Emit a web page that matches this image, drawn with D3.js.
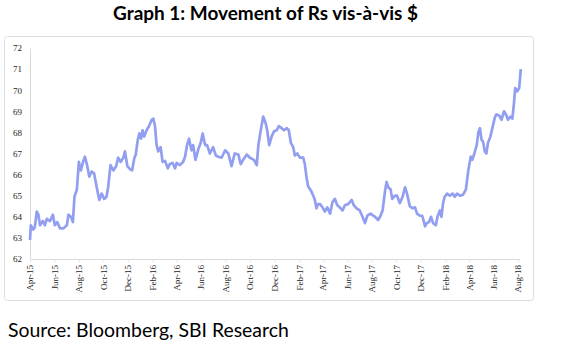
<!DOCTYPE html>
<html><head><meta charset="utf-8">
<script src="https://cdn.jsdelivr.net/npm/d3@7"></script>
<style>body{margin:0;background:#fff}svg{display:block}</style>
</head><body>
<svg id="c" width="571" height="359"></svg>
<script>
const dates = ["2015-04-01","2015-04-03","2015-04-09","2015-04-13","2015-04-18","2015-04-22","2015-04-26","2015-05-03","2015-05-08","2015-05-13","2015-05-21","2015-05-28","2015-06-02","2015-06-08","2015-06-15","2015-06-23","2015-07-02","2015-07-06","2015-07-12","2015-07-17","2015-07-21","2015-07-27","2015-08-01","2015-08-06","2015-08-12","2015-08-16","2015-08-22","2015-08-27","2015-09-02","2015-09-08","2015-09-14","2015-09-21","2015-09-27","2015-10-03","2015-10-09","2015-10-13","2015-10-19","2015-10-26","2015-11-02","2015-11-07","2015-11-13","2015-11-20","2015-11-24","2015-11-30","2015-12-07","2015-12-12","2015-12-17","2015-12-21","2015-12-26","2015-12-30","2016-01-03","2016-01-07","2016-01-11","2016-01-17","2016-01-23","2016-01-30","2016-02-03","2016-02-07","2016-02-11","2016-02-15","2016-02-21","2016-02-26","2016-03-03","2016-03-10","2016-03-15","2016-03-22","2016-03-28","2016-04-01","2016-04-09","2016-04-17","2016-04-22","2016-04-27","2016-05-02","2016-05-08","2016-05-12","2016-05-18","2016-05-25","2016-05-31","2016-06-05","2016-06-11","2016-06-16","2016-06-23","2016-07-01","2016-07-08","2016-07-14","2016-07-22","2016-07-31","2016-08-08","2016-08-16","2016-08-24","2016-09-02","2016-09-08","2016-09-14","2016-09-23","2016-10-01","2016-10-11","2016-10-18","2016-10-22","2016-10-28","2016-11-03","2016-11-09","2016-11-13","2016-11-18","2016-11-24","2016-11-30","2016-12-07","2016-12-12","2016-12-19","2016-12-25","2017-01-01","2017-01-06","2017-01-11","2017-01-17","2017-01-21","2017-01-27","2017-02-03","2017-02-11","2017-02-15","2017-02-19","2017-02-23","2017-03-02","2017-03-08","2017-03-12","2017-03-16","2017-03-20","2017-03-25","2017-03-31","2017-04-06","2017-04-12","2017-04-19","2017-04-25","2017-05-01","2017-05-07","2017-05-13","2017-05-20","2017-05-26","2017-06-03","2017-06-12","2017-06-17","2017-06-24","2017-07-02","2017-07-09","2017-07-15","2017-07-21","2017-07-29","2017-08-05","2017-08-09","2017-08-17","2017-08-23","2017-08-28","2017-09-03","2017-09-07","2017-09-11","2017-09-17","2017-09-21","2017-09-28","2017-10-03","2017-10-10","2017-10-17","2017-10-23","2017-10-28","2017-11-04","2017-11-11","2017-11-17","2017-11-22","2017-11-29","2017-12-05","2017-12-12","2017-12-16","2017-12-22","2017-12-27","2018-01-01","2018-01-08","2018-01-12","2018-01-18","2018-01-22","2018-01-26","2018-01-30","2018-02-05","2018-02-12","2018-02-19","2018-02-24","2018-03-02","2018-03-09","2018-03-17","2018-03-24","2018-03-30","2018-04-05","2018-04-09","2018-04-14","2018-04-20","2018-04-24","2018-04-28","2018-05-02","2018-05-06","2018-05-10","2018-05-14","2018-05-18","2018-05-24","2018-05-29","2018-06-04","2018-06-08","2018-06-15","2018-06-21","2018-06-27","2018-07-02","2018-07-07","2018-07-13","2018-07-18","2018-07-22","2018-07-25","2018-07-30","2018-08-04","2018-08-08"];
const values = [62.9,63.6,63.4,63.5,64.25,64.1,63.6,63.8,63.6,63.9,63.8,64.1,63.6,63.75,63.45,63.45,63.6,64.1,64.0,63.75,64.95,65.3,66.6,66.2,66.65,66.85,66.4,65.9,66.15,66.05,65.45,64.8,65.1,64.85,64.95,65.4,66.45,66.2,66.4,66.8,66.6,66.8,67.1,66.4,66.25,66.2,66.75,66.95,67.65,67.95,67.7,68.1,67.8,68.1,68.3,68.6,68.65,68.3,67.4,67.1,67.3,66.6,66.65,66.3,66.5,66.55,66.3,66.55,66.45,66.6,66.85,67.4,67.7,67.15,67.4,66.7,67.2,67.5,67.95,67.4,67.4,67.0,67.3,66.9,66.85,66.8,67.15,67.0,66.4,67.0,66.95,66.5,66.7,66.95,66.8,66.7,66.45,67.4,68.1,68.75,68.45,68.1,67.4,67.8,68.05,68.1,68.3,68.2,68.1,68.2,68.1,67.5,67.3,66.9,67.0,66.8,66.8,66.5,65.9,65.45,65.25,65.0,64.8,64.4,64.6,64.6,64.45,64.25,64.45,64.15,64.7,64.85,64.55,64.45,64.3,64.55,64.6,64.8,64.55,64.4,64.3,64.0,63.7,64.05,64.15,64.05,64.0,63.85,64.05,64.3,65.2,65.65,65.4,65.3,64.85,65.0,65.0,64.65,64.95,65.4,65.1,64.5,64.4,64.45,64.15,64.05,64.05,63.55,63.7,63.75,64.0,63.7,63.6,64.0,64.3,64.0,64.65,64.95,65.1,65.0,65.1,64.95,65.1,65.0,65.05,65.3,66.2,66.85,66.7,67.0,67.4,68.0,68.2,67.65,67.55,67.1,67.0,67.5,67.8,68.2,68.7,68.85,68.8,68.6,69.0,68.85,68.6,68.75,68.65,69.4,70.1,69.95,70.1,71.0];
const yTicks = [62,63,64,65,66,67,68,69,70,71,72];
const xTickDates = ["2015-04-01","2015-06-01","2015-08-01","2015-10-01","2015-12-01","2016-02-01","2016-04-01","2016-06-01","2016-08-01","2016-10-01","2016-12-01","2017-02-01","2017-04-01","2017-06-01","2017-08-01","2017-10-01","2017-12-01","2018-02-01","2018-04-01","2018-06-01","2018-08-01"];
const titleText = "Graph 1: Movement of Rs vis-à-vis $";
const sourceText = "Source: Bloomberg, SBI Research";

const parse = d3.timeParse("%Y-%m-%d");
const data = dates.map((d,i)=>({date:parse(d), value:values[i]}));
const svg = d3.select("#c");

// chart frame
svg.append("rect").attr("x",4.5).attr("y",36.5).attr("width",529).attr("height",264)
  .attr("rx",3).attr("fill","#fff").attr("stroke","#dedede").attr("stroke-width",1);

const x = d3.scaleTime().domain([parse("2015-04-01"), parse("2018-08-01")]).range([30,518]);
const y = d3.scaleLinear().domain([62,72]).range([259,48]);

// axes
const yAxis = d3.axisLeft(y).tickValues(yTicks).tickSize(0).tickPadding(8).tickFormat(d3.format("d"));
const gy = svg.append("g").attr("transform","translate(30,0)").call(yAxis);
gy.select(".domain").attr("stroke","#d9d9d9");
gy.selectAll("text").attr("font-family","Liberation Serif, serif").attr("font-size",9).attr("fill","#222");

const xAxis = d3.axisBottom(x).tickValues(xTickDates.map(parse)).tickSize(3).tickPadding(4).tickFormat(d3.timeFormat("%b-%y"));
const gx = svg.append("g").attr("transform","translate(0,259)").call(xAxis);
gx.select(".domain").attr("stroke","#d9d9d9").attr("d","M30,0.5H520");
gx.selectAll(".tick line").attr("stroke","#e3e3e3");
gx.selectAll("text").attr("font-family","Liberation Serif, serif").attr("font-size",9).attr("fill","#222")
  .attr("transform","rotate(-90)").attr("text-anchor","end").attr("dx","-6").attr("dy","0.32em").attr("x",0).attr("y",0);

// line
const line = d3.line().x(d=>x(d.date)).y(d=>y(d.value)).curve(d3.curveLinear);
svg.append("path").datum(data).attr("d",line).attr("fill","none")
  .attr("stroke","#929ff0").attr("stroke-width",2.7).attr("stroke-linejoin","round");

// title
function fit(t, target){ let fs=+t.attr("font-size"); const w=t.node().getComputedTextLength(); t.attr("font-size", fs*target/w); }
const title = svg.append("text").attr("x",265.5).attr("y",20).attr("text-anchor","middle")
  .attr("font-family","Lato, 'Open Sans', sans-serif").attr("font-weight","bold").attr("font-size",17).attr("fill","#000").text(titleText);
fit(title,305);
const src = svg.append("text").attr("x",8).attr("y",337)
  .attr("font-family","Lato, 'Open Sans', sans-serif").attr("font-size",19).attr("fill","#000").text(sourceText);
fit(src,281);
</script>
</body></html>
